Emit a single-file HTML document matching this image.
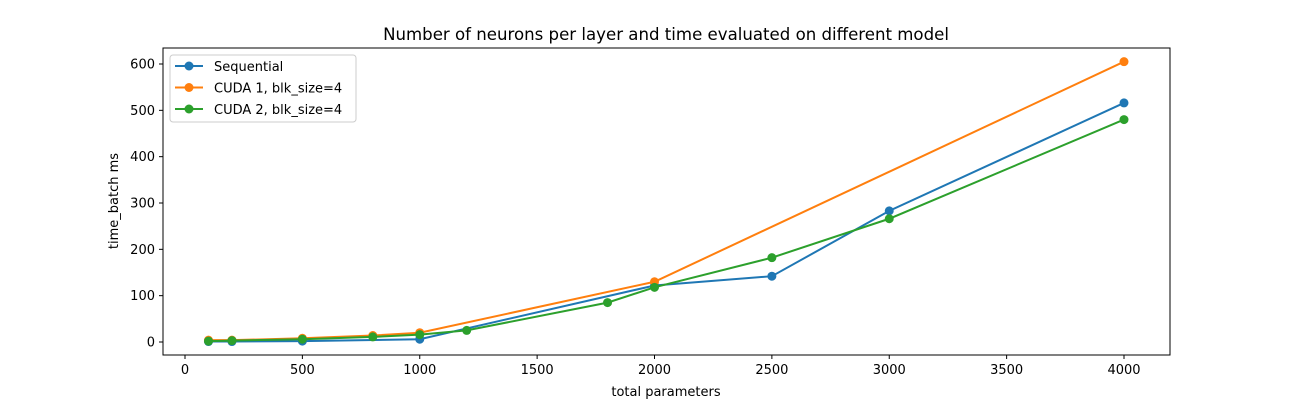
<!DOCTYPE html>
<html><head><meta charset="utf-8"><style>
body{margin:0;background:#fff;}
svg text{font-family:"DejaVu Sans","Liberation Sans",sans-serif;fill:#000;}
</style></head><body>
<svg id="chart" width="1300" height="400"></svg>
<script>
const xTicks=[0,500,1000,1500,2000,2500,3000,3500,4000];
const yTicks=[0,100,200,300,400,500,600];
const seqX=[100,200,500,1000,2000,2500,3000,4000];
const seqY=[1,1,2,6,122,142,283,516];
const cuda1X=[100,200,500,800,1000,2000,4000];
const cuda1Y=[4,4,8,14,20,130,605];
const cuda2X=[100,200,500,800,1000,1200,1800,2000,2500,3000,4000];
const cuda2Y=[2,3,6,11,16,25,85,118,182,266,480];
const seriesNames=["Sequential","CUDA 1, blk_size=4","CUDA 2, blk_size=4"];
const colors=["#1f77b4","#ff7f0e","#2ca02c"];
const NS="http://www.w3.org/2000/svg";
const svg=document.getElementById('chart');
const L=163,R=1170,T=48,B=355;
const sx=v=>185+v*(1124-185)/4000;
const sy=v=>342-v*(342-64)/600;
function mk(t,a,p){const e=document.createElementNS(NS,t);for(const k in a)e.setAttribute(k,a[k]);(p||svg).appendChild(e);return e;}
let t=mk('text',{x:666,y:40,'text-anchor':'middle','font-size':16.6});t.textContent="Number of neurons per layer and time evaluated on different model";


xTicks.forEach(v=>{const g=mk('g',{});


mk('line',{x1:sx(v),x2:sx(v),y1:B,y2:B+4,stroke:'#000'},g);
const tx=mk('text',{x:sx(v),y:B+19,'text-anchor':'middle','font-size':13},g);tx.textContent=v;});
yTicks.forEach(v=>{const g=mk('g',{});


mk('line',{x1:L-4,x2:L,y1:sy(v),y2:sy(v),stroke:'#000'},g);
const tx=mk('text',{x:L-8,y:sy(v)+4.5,'text-anchor':'end','font-size':13},g);tx.textContent=v;});
t=mk('text',{x:666,y:396,'text-anchor':'middle','font-size':13});t.textContent="total parameters";


t=mk('text',{x:118,y:201,'text-anchor':'middle','font-size':13,transform:'rotate(-90 118 201)'});t.textContent="time_batch ms";


const data=[[seqX,seqY],[cuda1X,cuda1Y],[cuda2X,cuda2Y]];
data.forEach((d,i)=>{const g=mk('g',{});


mk('polyline',{points:d[0].map((x,j)=>sx(x)+','+sy(d[1][j])).join(' '),fill:'none',stroke:colors[i],'stroke-width':2},g);
d[0].forEach((x,j)=>{const c=mk('circle',{cx:sx(x),cy:sy(d[1][j]),r:4.5,fill:colors[i]},g);

});});
const fr=mk('rect',{x:L,y:T,width:R-L,height:B-T,fill:'none',stroke:'#000','stroke-width':1});


const lg=mk('g',{});


mk('rect',{x:170,y:55,width:186,height:67,rx:3,fill:'#fff','fill-opacity':0.8,stroke:'#ccc'},lg);
seriesNames.forEach((n,i)=>{const y=66+i*21.5;const e=mk('g',{},lg);


mk('line',{x1:175,x2:203,y1:y,y2:y,stroke:colors[i],'stroke-width':2},e);
mk('circle',{cx:189,cy:y,r:4.5,fill:colors[i]},e);
const tx=mk('text',{x:214,y:y+5,'font-size':13},e);tx.textContent=n;});
</script>
</body></html>
